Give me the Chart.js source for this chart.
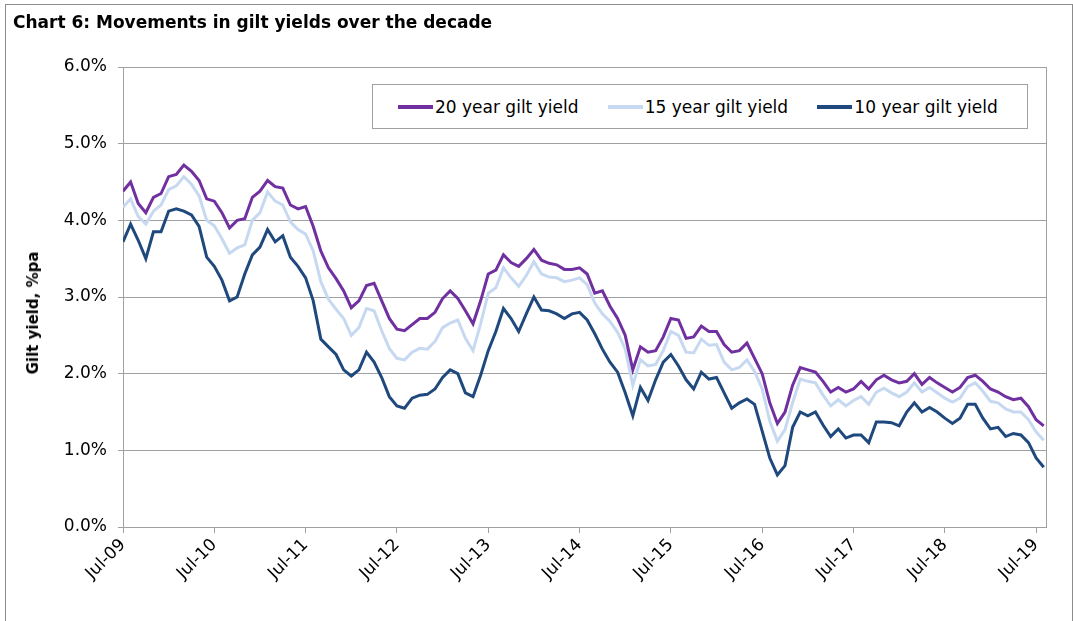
<!DOCTYPE html>
<html>
<head>
<meta charset="utf-8">
<script src="https://cdn.jsdelivr.net/npm/chart.js@4.4.0/dist/chart.umd.min.js"></script>
<style>
  body { margin: 0; background: #fff; font-family: "DejaVu Sans", Verdana, sans-serif; }
  #wrap { position: relative; width: 1073px; height: 621px; overflow: hidden; }
  #frame { position: absolute; left: 5px; top: 4px; width: 1066px; height: 660px; border: 1px solid #8c8c8c; }
  #title { position: absolute; left: 13px; top: 12px; line-height: 20px; font-size: 17px; font-weight: bold; color: #000; white-space: nowrap; }
  #ytitle { position: absolute; left: 33px; top: 313px; transform: translate(-50%, -50%) rotate(-90deg);
            font-size: 15px; font-weight: bold; color: #000; white-space: nowrap; }
  #legend { position: absolute; left: 372px; top: 84px; width: 629px; height: 43px; border: 1px solid #a0a0a0;
            background: #fff; display: flex; align-items: center; padding-left: 25px; box-sizing: content-box; }
  .item { width: 210px; display: flex; align-items: center; font-size: 17px; color: #000; white-space: nowrap; }
  .swatch { width: 35px; height: 4px; margin-right: 2px; }
  canvas { position: absolute; left: 0; top: 0; }
</style>
</head>
<body>
<div id="wrap">
  <div id="frame"></div>
  <canvas id="chart" width="1073" height="621"></canvas>
  <div id="title">Chart 6: Movements in gilt yields over the decade</div>
  <div id="ytitle">Gilt yield, %pa</div>
  <div id="legend"></div>
</div>
<script>
// 月度读数（从图上估计），Jul-09 到 Aug-19
const tickLabels = ['Jul-09', 'Jul-10', 'Jul-11', 'Jul-12', 'Jul-13', 'Jul-14',
                    'Jul-15', 'Jul-16', 'Jul-17', 'Jul-18', 'Jul-19'];

const yieldTicks = [0, 1, 2, 3, 4, 5, 6];

const seriesNames = ['20 year gilt yield', '15 year gilt yield', '10 year gilt yield'];

const gilt20 = [
  4.38, 4.50, 4.22, 4.10, 4.30, 4.35,
  4.57, 4.60, 4.72, 4.64, 4.52, 4.28, 4.25, 4.10, 3.90, 4.00, 4.02, 4.30,
  4.38, 4.52, 4.44, 4.42, 4.20, 4.15, 4.18, 3.92, 3.60, 3.38, 3.24, 3.08,
  2.86, 2.95, 3.15, 3.18, 2.95, 2.72, 2.58, 2.56, 2.64, 2.72, 2.72, 2.80,
  2.98, 3.08, 2.98, 2.82, 2.65, 2.95, 3.30, 3.35, 3.55, 3.45, 3.40, 3.50,
  3.62, 3.48, 3.44, 3.42, 3.36, 3.36, 3.38, 3.30, 3.05, 3.08, 2.88, 2.72,
  2.50, 2.05, 2.35, 2.28, 2.30, 2.48, 2.72, 2.70, 2.46, 2.48, 2.62, 2.55,
  2.55, 2.38, 2.28, 2.30, 2.40, 2.20, 2.00, 1.62, 1.35, 1.50, 1.85, 2.08,
  2.05, 2.02, 1.90, 1.76, 1.82, 1.76, 1.80, 1.90, 1.80, 1.92, 1.98, 1.92,
  1.88, 1.90, 2.00, 1.86, 1.95, 1.88, 1.82, 1.76, 1.82, 1.95, 1.98, 1.90,
  1.80, 1.76, 1.70, 1.66, 1.68, 1.57, 1.40, 1.32
];

const gilt15 = [
  4.17, 4.28, 4.05, 3.95, 4.12, 4.20,
  4.40, 4.45, 4.57, 4.47, 4.32, 4.00, 3.93, 3.76, 3.57, 3.64, 3.68, 4.00,
  4.10, 4.37, 4.25, 4.20, 3.98, 3.88, 3.82, 3.60, 3.20, 2.97, 2.84, 2.72,
  2.50, 2.60, 2.85, 2.82, 2.56, 2.33, 2.20, 2.18, 2.28, 2.33, 2.32, 2.42,
  2.60, 2.66, 2.70, 2.46, 2.30, 2.65, 3.05, 3.12, 3.38, 3.25, 3.14, 3.28,
  3.46, 3.30, 3.26, 3.25, 3.20, 3.22, 3.25, 3.16, 2.92, 2.78, 2.68, 2.54,
  2.32, 1.85, 2.18, 2.10, 2.12, 2.30, 2.55, 2.50, 2.28, 2.27, 2.45, 2.37,
  2.38, 2.15, 2.05, 2.08, 2.18, 2.03, 1.80, 1.38, 1.12, 1.27, 1.62, 1.93,
  1.90, 1.88, 1.72, 1.58, 1.66, 1.58, 1.65, 1.70, 1.60, 1.76, 1.81, 1.75,
  1.70, 1.76, 1.88, 1.76, 1.82, 1.75, 1.68, 1.63, 1.68, 1.83, 1.88, 1.77,
  1.64, 1.62, 1.54, 1.50, 1.50, 1.40, 1.24, 1.13
];

const gilt10 = [
  3.72, 3.95, 3.74, 3.50, 3.85, 3.85,
  4.12, 4.15, 4.12, 4.07, 3.92, 3.52, 3.40, 3.22, 2.95, 3.00, 3.30, 3.55,
  3.65, 3.88, 3.72, 3.80, 3.52, 3.40, 3.25, 2.95, 2.45, 2.35, 2.25, 2.05,
  1.97, 2.05, 2.28, 2.15, 1.95, 1.70, 1.58, 1.55, 1.68, 1.72, 1.73, 1.80,
  1.95, 2.05, 2.00, 1.75, 1.70, 1.98, 2.30, 2.55, 2.85, 2.72, 2.55, 2.78,
  3.00, 2.83, 2.82, 2.78, 2.72, 2.78, 2.80, 2.70, 2.52, 2.32, 2.15, 2.02,
  1.75, 1.45, 1.82, 1.65, 1.92, 2.15, 2.25, 2.10, 1.92, 1.80, 2.02, 1.93,
  1.95, 1.75, 1.55, 1.62, 1.67, 1.60, 1.25, 0.90, 0.68, 0.80, 1.30, 1.50,
  1.45, 1.50, 1.33, 1.18, 1.28, 1.16, 1.20, 1.20, 1.10, 1.37, 1.37, 1.36,
  1.32, 1.50, 1.62, 1.50, 1.56, 1.50, 1.42, 1.35, 1.42, 1.60, 1.60, 1.42,
  1.28, 1.30, 1.18, 1.22, 1.20, 1.10, 0.90, 0.78
];

const seriesColors = ['#7030a0', '#c6d9f1', '#1f497d'];

// 画图区的外框
const plotBorder = {
  id: 'plotBorder',
  beforeDatasetsDraw(chart) {
    const { ctx, chartArea: a } = chart;
    ctx.save();
    ctx.strokeStyle = '#a0a0a0';
    ctx.lineWidth = 1;
    ctx.strokeRect(Math.round(a.left) + 0.5, Math.round(a.top) + 0.5,
                   Math.round(a.right - a.left), Math.round(a.bottom - a.top));
    ctx.restore();
  }
};

function toPoints(values) {
  return values.map((v, i) => ({ x: i, y: v }));
}

const font = { family: '"DejaVu Sans", Verdana, sans-serif', size: 17 };

const chart = new Chart(document.getElementById('chart'), {
  type: 'line',
  data: {
    datasets: [gilt20, gilt15, gilt10].map((vals, i) => ({
      label: seriesNames[i],
      data: toPoints(vals),
      borderColor: seriesColors[i],
      backgroundColor: seriesColors[i],
      borderWidth: 3,
      pointRadius: 0,
      tension: 0
    }))
  },
  options: {
    responsive: false,
    devicePixelRatio: 1,
    animation: false,
    layout: { padding: { left: 0, top: 67, right: 27, bottom: 0 } },
    plugins: { legend: { display: false }, tooltip: { enabled: false } },
    scales: {
      x: {
        type: 'linear',
        min: 0,
        max: 121.3,
        afterBuildTicks: (scale) => {
          scale.ticks = tickLabels.map((_, i) => ({ value: i * 12 }));
        },
        afterFit: (scale) => {
          scale.height = 94;
          scale.paddingLeft = 0;
          scale.paddingRight = 0;
        },
        grid: { drawOnChartArea: false, color: '#a0a0a0', tickLength: 6 },
        border: { color: '#a0a0a0' },
        ticks: {
          font: font,
          color: '#000',
          autoSkip: false,
          minRotation: 45,
          maxRotation: 45,
          padding: 2,
          callback: (v, i) => tickLabels[i]
        }
      },
      y: {
        min: 0,
        max: 6,
        afterBuildTicks: (scale) => {
          scale.ticks = yieldTicks.map(v => ({ value: v }));
        },
        afterFit: (scale) => { scale.width = 123; },
        grid: { color: '#a0a0a0', tickLength: 5 },
        border: { color: '#a0a0a0' },
        ticks: {
          font: font,
          color: '#000',
          padding: 11,
          callback: (v) => v.toFixed(1) + '%'
        }
      }
    }
  },
  plugins: [plotBorder]
});

// 图例（放在画图区里面）
const legendBox = document.getElementById('legend');
chart.data.datasets.forEach(ds => {
  const item = document.createElement('div');
  item.className = 'item';
  const sw = document.createElement('span');
  sw.className = 'swatch';
  sw.style.background = ds.borderColor;
  item.appendChild(sw);
  item.appendChild(document.createTextNode(ds.label));
  legendBox.appendChild(item);
});
</script>
</body>
</html>
